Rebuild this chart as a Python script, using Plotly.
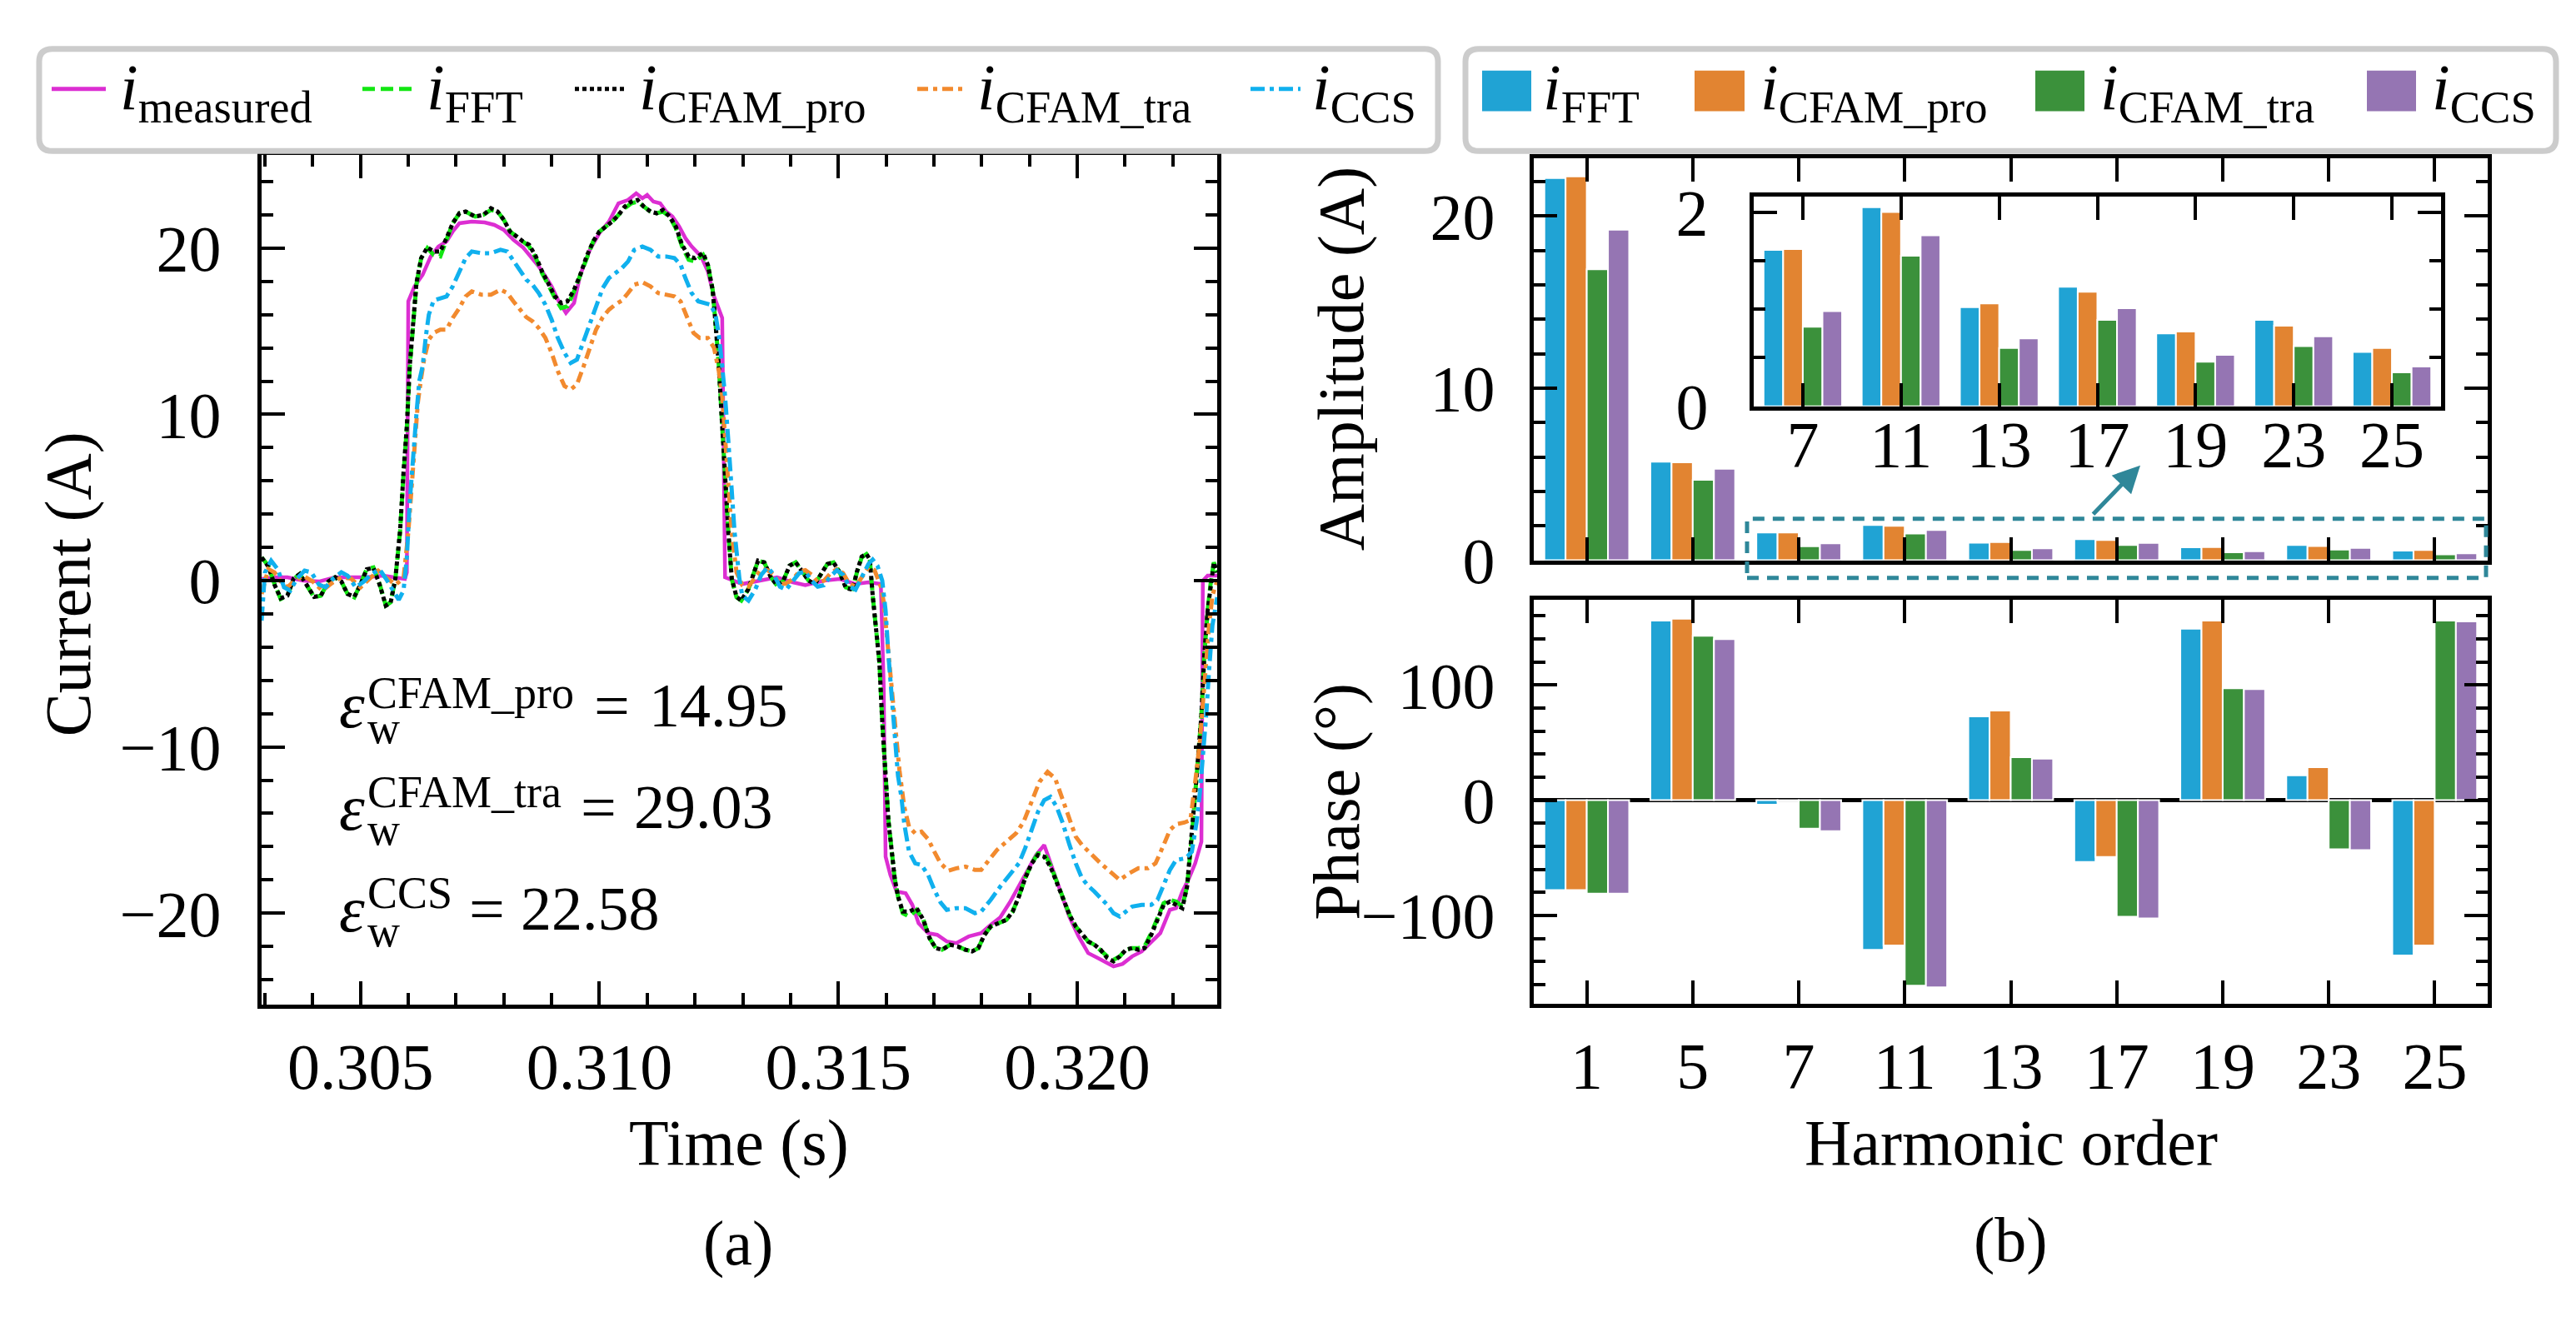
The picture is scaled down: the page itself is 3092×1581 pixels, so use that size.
import plotly.graph_objects as go

W, H = 3092, 1581
FONT = "Liberation Serif"


def px(x):
    return x / W


def py(y):
    return 1 - y / H


# ---------------- (a) time-domain currents ----------------
t_meas = [0.30293, 0.30320, 0.30347, 0.30380, 0.30413, 0.30447, 0.30480, 0.30513, 0.30547, 0.30573,
          0.30593, 0.30597, 0.30600, 0.30613, 0.30630, 0.30647, 0.30663, 0.30680, 0.30693, 0.30707,
          0.30733, 0.30760, 0.30780, 0.30800, 0.30820, 0.30840, 0.30860, 0.30873, 0.30887, 0.30900,
          0.30913, 0.30930, 0.30947, 0.30960, 0.30980, 0.31000, 0.31020, 0.31040, 0.31060, 0.31077,
          0.31090, 0.31100, 0.31113, 0.31127, 0.31140, 0.31153, 0.31167, 0.31180, 0.31193, 0.31213,
          0.31227, 0.31240, 0.31257, 0.31260, 0.31263, 0.31299, 0.31339, 0.31372, 0.31405, 0.31431,
          0.31470, 0.31503, 0.31536, 0.31563, 0.31589, 0.31595, 0.31599, 0.31609, 0.31622, 0.31641,
          0.31655, 0.31668, 0.31688, 0.31707, 0.31727, 0.31747, 0.31773, 0.31799, 0.31819, 0.31839,
          0.31859, 0.31878, 0.31898, 0.31914, 0.31931, 0.31947, 0.31964, 0.31984, 0.32003, 0.32023,
          0.32043, 0.32063, 0.32076, 0.32095, 0.32115, 0.32135, 0.32155, 0.32174, 0.32194, 0.32207,
          0.32220, 0.32234, 0.32247, 0.32260, 0.32263, 0.32273, 0.32293]
i_meas = [0.1, 0.2, 0.2, 0.0, -0.05, 0.2, 0.2, 0.2, 0.3, 0.2,
          0.1, 0.5, 16.8, 17.7, 18.4, 19.5, 20.1, 20.4, 21.0, 21.5,
          21.6, 21.55, 21.4, 21.1, 20.5, 20.05, 19.4, 18.9, 18.3, 17.7,
          16.9, 16.1, 16.7, 18.4, 19.9, 20.9, 21.6, 22.7, 22.9, 23.3,
          23.0, 23.2, 22.8, 22.7, 22.2, 21.9, 21.3, 20.6, 20.1, 19.5,
          18.6, 17.1, 15.8, 9.3, 0.2, -0.2, 0.0, 0.2, -0.1, -0.27,
          0.0, 0.1, -0.2, -0.1, -0.2, -6.3, -16.6, -17.7, -18.7, -18.8,
          -19.5, -20.6, -21.2, -21.3, -21.7, -21.8, -21.4, -21.2, -20.7, -20.25,
          -19.35, -18.4, -17.4, -16.5, -15.9, -17.2, -18.7, -20.25, -21.4, -22.4,
          -22.7, -23.0, -23.2, -23.05, -22.6, -22.3, -21.7, -21.2, -19.8, -19.7,
          -18.7, -17.9, -17.0, -15.7, 0.0, 0.3, 0.3]

# time base shared by the FFT and CFAM_pro reconstructions
t_rec = [0.30293, 0.30307, 0.30320, 0.30333, 0.30347, 0.30360, 0.30373, 0.30390, 0.30403, 0.30417,
         0.30433, 0.30447, 0.30460, 0.30473, 0.30487, 0.30500, 0.30513, 0.30527, 0.30540, 0.30553,
         0.30563, 0.30573, 0.30583, 0.30590, 0.30597, 0.30603, 0.30610, 0.30617, 0.30627, 0.30640,
         0.30653, 0.30667, 0.30680, 0.30693, 0.30707, 0.30720, 0.30740, 0.30757, 0.30773, 0.30787,
         0.30800, 0.30813, 0.30827, 0.30840, 0.30853, 0.30867, 0.30880, 0.30893, 0.30907, 0.30920,
         0.30933, 0.30947, 0.30960, 0.30973, 0.30987, 0.31000, 0.31013, 0.31027, 0.31040, 0.31053,
         0.31067, 0.31080, 0.31093, 0.31107, 0.31120, 0.31133, 0.31147, 0.31160, 0.31173, 0.31187,
         0.31200, 0.31217, 0.31227, 0.31237, 0.31243, 0.31250, 0.31257, 0.31263, 0.31270, 0.31277,
         0.31287, 0.31297, 0.31312, 0.31332, 0.31345, 0.31359, 0.31372, 0.31385, 0.31398, 0.31411,
         0.31424, 0.31438, 0.31451, 0.31464, 0.31477, 0.31490, 0.31503, 0.31516, 0.31530, 0.31539,
         0.31549, 0.31559, 0.31566, 0.31572, 0.31579, 0.31586, 0.31592, 0.31599, 0.31605, 0.31612,
         0.31618, 0.31625, 0.31635, 0.31648, 0.31664, 0.31678, 0.31691, 0.31704, 0.31717, 0.31734,
         0.31750, 0.31766, 0.31780, 0.31793, 0.31806, 0.31819, 0.31836, 0.31852, 0.31865, 0.31878,
         0.31891, 0.31905, 0.31918, 0.31931, 0.31944, 0.31957, 0.31970, 0.31984, 0.31997, 0.32010,
         0.32023, 0.32036, 0.32049, 0.32063, 0.32076, 0.32089, 0.32102, 0.32115, 0.32128, 0.32141,
         0.32155, 0.32168, 0.32181, 0.32194, 0.32207, 0.32220, 0.32230, 0.32240, 0.32250, 0.32260,
         0.32266, 0.32273, 0.32280, 0.32286, 0.32293]
i_pro = [1.4, 0.86, -0.24, -1.06, -0.9, 0.13, 0.4, -0.4, -0.97, -0.9,
         -0.05, 0.2, -0.05, -0.8, -0.97, -0.24, 0.68, 0.77, -0.24, -1.5,
         -1.33, 0.13, 3.05, 6.5, 9.3, 12.9, 15.5, 17.9, 19.4, 20.05,
         19.8, 19.8, 20.6, 21.5, 22.1, 22.2, 21.9, 22.0, 22.4, 22.2,
         21.7, 21.0, 20.7, 20.4, 20.2, 19.5, 18.6, 17.9, 17.1, 16.7,
         16.8, 17.5, 18.4, 19.5, 20.4, 21.0, 21.3, 21.6, 22.0, 22.5,
         22.8, 22.9, 22.5, 22.2, 22.1, 22.3, 21.9, 21.3, 20.2, 19.5,
         19.4, 19.7, 19.0, 17.5, 15.5, 12.9, 9.3, 6.0, 2.9, 0.13,
         -0.97, -1.2, -0.5, 1.2, 1.1, 0.2, -0.27, 0.0, 0.9, 1.1,
         0.6, 0.0, -0.2, 0.36, 1.0, 1.1, 0.5, -0.45, -0.54, 0.54,
         1.45, 1.6, 1.27, -0.9, -2.7, -4.9, -8.5, -11.75, -14.5, -16.3,
         -17.9, -19.0, -19.9, -19.9, -19.7, -20.4, -21.5, -22.1, -22.2, -21.9,
         -22.0, -22.2, -22.3, -22.1, -21.3, -20.8, -20.6, -20.4, -19.9, -19.0,
         -17.9, -17.0, -16.5, -16.6, -17.2, -18.1, -19.0, -20.1, -20.8, -21.3,
         -21.7, -21.9, -22.2, -22.7, -22.9, -22.6, -22.2, -22.1, -22.2, -22.1,
         -21.3, -20.4, -19.5, -19.3, -19.5, -19.7, -18.4, -15.4, -11.75, -8.1,
         -4.5, -1.8, 0.0, 1.1, 0.5]
i_fft = [1.4, 0.9, -0.2, -1.1, -0.9, 0.1, 0.4, -0.4, -1.0, -0.9,
         -0.05, 0.2, -0.05, -0.8, -1.0, -0.2, 0.7, 0.8, -0.2, -1.5,
         -1.3, 0.1, 3.0, 6.4, 9.2, 12.8, 15.4, 17.8, 19.4, 20.0,
         19.6, 19.5, 20.5, 21.5, 22.1, 22.2, 21.9, 22.0, 22.3, 22.2,
         21.7, 21.0, 20.7, 20.4, 20.1, 19.4, 18.5, 17.8, 17.0, 16.4,
         16.5, 17.4, 18.4, 19.5, 20.4, 21.0, 21.3, 21.6, 22.0, 22.4,
         22.7, 22.8, 22.5, 22.2, 22.1, 22.2, 21.9, 21.2, 20.1, 19.3,
         19.2, 19.6, 19.0, 17.5, 15.5, 12.9, 9.3, 6.0, 2.9, 0.1,
         -1.0, -1.2, -0.5, 1.2, 1.1, 0.2, -0.3, 0.0, 0.9, 1.1,
         0.6, 0.0, -0.2, 0.4, 1.0, 1.1, 0.5, -0.4, -0.5, 0.5,
         1.4, 1.6, 1.3, -0.9, -2.7, -4.9, -8.5, -11.7, -14.4, -16.3,
         -17.9, -19.0, -20.0, -20.2, -19.8, -20.4, -21.5, -22.1, -22.2, -21.9,
         -22.0, -22.2, -22.3, -22.1, -21.3, -20.8, -20.6, -20.4, -19.9, -19.0,
         -17.9, -17.0, -16.4, -16.4, -17.1, -18.1, -19.0, -20.1, -20.8, -21.3,
         -21.7, -21.9, -22.2, -22.6, -22.8, -22.6, -22.2, -22.1, -22.1, -22.0,
         -21.2, -20.3, -19.4, -19.2, -19.3, -19.6, -18.4, -15.4, -11.7, -8.1,
         -4.5, -1.8, 0.0, 1.1, 0.5]

t_tra = [0.30293, 0.30307, 0.30320, 0.30333, 0.30347, 0.30360, 0.30380, 0.30400, 0.30420, 0.30440,
         0.30460, 0.30480, 0.30500, 0.30520, 0.30537, 0.30553, 0.30573, 0.30590, 0.30600, 0.30607,
         0.30613, 0.30620, 0.30627, 0.30633, 0.30643, 0.30653, 0.30667, 0.30680, 0.30693, 0.30707,
         0.30720, 0.30733, 0.30753, 0.30773, 0.30793, 0.30807, 0.30820, 0.30833, 0.30847, 0.30860,
         0.30873, 0.30887, 0.30900, 0.30913, 0.30927, 0.30940, 0.30953, 0.30967, 0.30980, 0.30993,
         0.31007, 0.31020, 0.31033, 0.31047, 0.31060, 0.31073, 0.31090, 0.31107, 0.31123, 0.31140,
         0.31157, 0.31170, 0.31183, 0.31197, 0.31210, 0.31227, 0.31240, 0.31250, 0.31257, 0.31263,
         0.31270, 0.31277, 0.31287, 0.31299, 0.31312, 0.31326, 0.31339, 0.31352, 0.31365, 0.31378,
         0.31391, 0.31405, 0.31418, 0.31431, 0.31444, 0.31457, 0.31470, 0.31484, 0.31497, 0.31510,
         0.31523, 0.31536, 0.31549, 0.31563, 0.31576, 0.31589, 0.31595, 0.31602, 0.31609, 0.31615,
         0.31622, 0.31628, 0.31638, 0.31648, 0.31661, 0.31674, 0.31688, 0.31701, 0.31714, 0.31730,
         0.31747, 0.31766, 0.31786, 0.31799, 0.31812, 0.31832, 0.31852, 0.31872, 0.31888, 0.31905,
         0.31921, 0.31938, 0.31954, 0.31970, 0.31984, 0.31997, 0.32010, 0.32030, 0.32049, 0.32069,
         0.32089, 0.32109, 0.32128, 0.32148, 0.32164, 0.32181, 0.32194, 0.32207, 0.32224, 0.32237,
         0.32243, 0.32250, 0.32257, 0.32263, 0.32270, 0.32276, 0.32283, 0.32293]
i_tra = [-0.8, 0.7, 0.5, -0.05, -0.4, -0.05, 0.3, -0.05, -0.6, -0.15,
         0.2, 0.13, -0.4, 0.13, 0.6, 0.2, -0.24, 0.13, 2.9, 5.6,
         8.35, 10.7, 12.2, 13.3, 14.5, 14.9, 15.1, 15.1, 15.8, 16.4,
         17.1, 17.4, 17.2, 17.2, 17.5, 17.3, 16.8, 16.3, 15.85, 15.6,
         15.2, 14.6, 13.7, 12.6, 11.7, 11.5, 11.8, 12.9, 14.0, 15.1,
         15.85, 16.3, 16.6, 16.85, 17.3, 17.8, 17.95, 17.7, 17.3, 17.2,
         17.1, 16.8, 15.85, 14.9, 14.6, 14.6, 14.0, 12.6, 11.1, 8.35,
         5.6, 2.9, 0.5, -0.27, -0.36, 0.18, 0.7, 0.63, 0.36, -0.18,
         -0.18, 0.1, 0.54, 0.63, 0.36, -0.1, 0.0, 0.45, 0.7, 0.45,
         -0.18, -0.36, 0.18, 0.8, 0.63, -0.36, -1.27, -3.6, -5.4, -7.4,
         -9.6, -11.4, -13.6, -14.8, -15.2, -15.1, -15.55, -16.3, -17.0, -17.45,
         -17.3, -17.2, -17.4, -17.4, -16.9, -16.2, -15.7, -15.2, -14.5, -13.2,
         -12.1, -11.5, -11.9, -13.2, -14.3, -15.4, -15.9, -16.5, -17.0, -17.5,
         -18.0, -17.6, -17.3, -17.3, -17.0, -15.9, -15.0, -14.65, -14.55, -14.4,
         -13.2, -11.4, -9.6, -7.4, -5.1, -2.7, -0.9, 0.0]

t_ccs = [0.30293, 0.30300, 0.30313, 0.30327, 0.30340, 0.30353, 0.30367, 0.30383, 0.30397, 0.30413,
         0.30427, 0.30443, 0.30460, 0.30473, 0.30490, 0.30507, 0.30523, 0.30540, 0.30553, 0.30567,
         0.30580, 0.30590, 0.30597, 0.30603, 0.30610, 0.30617, 0.30623, 0.30630, 0.30637, 0.30643,
         0.30653, 0.30667, 0.30680, 0.30693, 0.30707, 0.30720, 0.30733, 0.30753, 0.30773, 0.30793,
         0.30807, 0.30820, 0.30833, 0.30847, 0.30860, 0.30873, 0.30887, 0.30900, 0.30913, 0.30927,
         0.30940, 0.30953, 0.30967, 0.30980, 0.30993, 0.31007, 0.31020, 0.31033, 0.31047, 0.31060,
         0.31073, 0.31090, 0.31107, 0.31123, 0.31140, 0.31157, 0.31170, 0.31180, 0.31193, 0.31207,
         0.31220, 0.31233, 0.31243, 0.31250, 0.31257, 0.31263, 0.31270, 0.31277, 0.31283, 0.31293,
         0.31299, 0.31312, 0.31326, 0.31339, 0.31352, 0.31365, 0.31378, 0.31391, 0.31405, 0.31418,
         0.31431, 0.31444, 0.31457, 0.31470, 0.31484, 0.31497, 0.31510, 0.31523, 0.31536, 0.31549,
         0.31563, 0.31572, 0.31582, 0.31592, 0.31599, 0.31605, 0.31612, 0.31618, 0.31625, 0.31632,
         0.31638, 0.31648, 0.31661, 0.31674, 0.31688, 0.31701, 0.31714, 0.31727, 0.31747, 0.31766,
         0.31786, 0.31799, 0.31819, 0.31839, 0.31859, 0.31878, 0.31891, 0.31905, 0.31918, 0.31931,
         0.31944, 0.31957, 0.31970, 0.31984, 0.31997, 0.32010, 0.32023, 0.32036, 0.32049, 0.32063,
         0.32076, 0.32089, 0.32102, 0.32115, 0.32135, 0.32155, 0.32168, 0.32181, 0.32194, 0.32207,
         0.32227, 0.32240, 0.32250, 0.32257, 0.32263, 0.32270, 0.32276, 0.32283, 0.32293]
i_ccs = [-2.4, 0.5, 1.2, 0.68, -0.4, -0.6, 0.13, 0.6, 0.5, -0.24,
         -0.4, 0.13, 0.5, 0.3, -0.4, -0.05, 0.4, 0.68, 0.13, -0.6,
         -1.15, -0.6, 1.4, 4.7, 7.8, 10.0, 12.0, 12.9, 14.75, 16.0,
         16.85, 17.0, 17.1, 17.7, 18.6, 19.4, 19.8, 19.7, 19.7, 19.9,
         19.8, 19.2, 18.7, 18.1, 17.8, 17.3, 16.6, 15.7, 14.6, 13.7,
         13.1, 13.3, 14.4, 15.5, 16.6, 17.6, 18.2, 18.5, 18.8, 19.2,
         19.9, 20.1, 19.9, 19.5, 19.5, 19.4, 19.0, 18.2, 17.3, 16.8,
         16.7, 16.6, 16.0, 14.75, 12.9, 11.1, 8.35, 5.6, 2.9, 0.13,
         -0.9, -1.2, -0.54, 0.36, 0.8, 0.36, -0.36, -0.54, 0.0, 0.45,
         0.54, 0.0, -0.36, -0.27, 0.27, 0.63, 0.36, -0.36, -0.54, 0.18,
         1.0, 1.27, 0.9, 0.0, -1.8, -4.5, -6.9, -9.6, -11.75, -13.0,
         -14.6, -16.3, -17.0, -17.1, -17.7, -18.6, -19.35, -19.8, -19.7, -19.7,
         -20.0, -19.9, -19.2, -18.4, -17.7, -17.0, -16.1, -15.0, -13.9, -13.2,
         -13.0, -13.6, -14.6, -15.9, -17.0, -17.9, -18.35, -18.7, -19.1, -19.5,
         -20.0, -20.2, -19.9, -19.6, -19.5, -19.5, -19.2, -18.3, -17.4, -16.8,
         -16.7, -16.3, -14.5, -12.7, -10.85, -8.1, -5.4, -2.7, -1.0]

error_names = ["CFAM_pro", "CFAM_tra", "CCS"]
error_values = ["14.95", "29.03", "22.58"]

# ---------------- (b) harmonic spectrum ----------------
harmonics = ["1", "5", "7", "11", "13", "17", "19", "23", "25"]
amp_fft = [22.2, 5.73, 1.61, 2.05, 1.02, 1.23, 0.75, 0.89, 0.56]
amp_pro = [22.3, 5.69, 1.62, 2.00, 1.06, 1.18, 0.77, 0.83, 0.60]
amp_tra = [16.9, 4.67, 0.82, 1.55, 0.60, 0.89, 0.46, 0.62, 0.35]
amp_ccs = [19.2, 5.31, 0.98, 1.76, 0.70, 1.01, 0.53, 0.72, 0.41]
ph_fft = [-78, 155.8, -4, -129.8, 72.7, -53.7, 148.8, 21.5, -134.7]
ph_pro = [-78, 157.4, -1, -126, 77.7, -49.2, 155.8, 28.5, -126]
ph_tra = [-81, 142.6, -24.8, -161, 37.2, -101.2, 97.1, -42.6, 155.8]
ph_ccs = [-81, 139.7, -26.9, -162.4, 36, -102.5, 96.3, -43.4, 155]

# ---------------- styles ----------------
C_MEAS, C_FFT_L, C_PRO_L, C_TRA_L, C_CCS_L = "#DC2ED2", "#12E612", "#000000", "#F28A2E", "#10B0EE"
C_FFT, C_PRO, C_TRA, C_CCS = "#20A3D4", "#E28431", "#3B913B", "#9575B3"
TEAL = "#2F8799"
D_FFT, D_PRO, D_TRA, D_CCS = "15px,7px", "5px,4px", "13px,6px,5px,6px", "17px,6px,5px,6px"

fig = go.Figure()

lines = [
    (t_meas, i_meas, C_MEAS, "solid", 4.5, "i_measured"),
    (t_rec, i_fft, C_FFT_L, D_FFT, 5, "i_FFT"),
    (t_rec, i_pro, C_PRO_L, D_PRO, 5, "i_CFAM_pro"),
    (t_tra, i_tra, C_TRA_L, D_TRA, 5, "i_CFAM_tra"),
    (t_ccs, i_ccs, C_CCS_L, D_CCS, 5, "i_CCS"),
]
for tx, iy, col, dash, lw, nm in lines:
    fig.add_trace(go.Scatter(x=tx, y=iy, mode="lines", name=nm, showlegend=False,
                             line=dict(color=col, width=lw, dash=dash), xaxis="x", yaxis="y"))

bar_sets = [(amp_fft, ph_fft, C_FFT, "FFT"), (amp_pro, ph_pro, C_PRO, "CFAM_pro"),
            (amp_tra, ph_tra, C_TRA, "CFAM_tra"), (amp_ccs, ph_ccs, C_CCS, "CCS")]
for amp, ph, col, nm in bar_sets:
    mk = dict(color=col, line=dict(color="white", width=2))
    fig.add_trace(go.Bar(x=harmonics, y=amp, marker=mk, name=nm, showlegend=False,
                         xaxis="x2", yaxis="y2"))
    fig.add_trace(go.Bar(x=harmonics, y=ph, marker=mk, name=nm, showlegend=False,
                         xaxis="x3", yaxis="y3"))
    fig.add_trace(go.Bar(x=harmonics[2:], y=amp[2:], marker=mk, name=nm, showlegend=False,
                         xaxis="x4", yaxis="y4"))

tickfont = dict(family=FONT, size=78, color="black")
common = dict(showline=True, linecolor="black", linewidth=5, mirror="ticks", ticks="inside",
              ticklen=28, tickwidth=4, tickcolor="black", showgrid=False,
              tickfont=tickfont)


def minor(d):
    return dict(ticks="inside", ticklen=14, tickwidth=4, tickcolor="black", dtick=d, showgrid=False)


fig.update_layout(
    width=W, height=H, margin=dict(l=0, r=0, t=0, b=0),
    paper_bgcolor="white", plot_bgcolor="white",
    barmode="group", bargap=0.2, bargroupgap=0,
    font=dict(family=FONT, color="black", size=76),
    xaxis=dict(domain=[px(306), px(1453)], range=[0.30293, 0.32293], tick0=0.3, dtick=0.005,
               tickformat=".3f", minor=minor(0.001), anchor="y", ticklabelstandoff=2,
               zeroline=False, **common),
    yaxis=dict(domain=[py(1227), py(162)], range=[-25.5, 25.6], tick0=0, dtick=10,
               minor=minor(2), anchor="x", ticklabelstandoff=28, zeroline=False, **common),
    xaxis2=dict(domain=[px(1833), px(2978)], range=[-0.5, 8.5], type="category",
                showticklabels=False, anchor="y2", zeroline=False, **common),
    yaxis2=dict(domain=[py(670), py(166)], range=[0, 23.35], tick0=0, dtick=10,
                minor=minor(2), anchor="x2", ticklabelstandoff=26, zeroline=False, **common),
    xaxis3=dict(domain=[px(1833), px(2978)], range=[-0.5, 8.5], type="category",
                anchor="y3", ticklabelstandoff=2, zeroline=False, **common),
    yaxis3=dict(domain=[py(1226), py(720)], range=[-176.7, 173.5], tick0=0, dtick=100,
                minor=minor(20), anchor="x3", ticklabelstandoff=26,
                zeroline=True, zerolinecolor="black", zerolinewidth=5, **common),
    xaxis4=dict(domain=[px(2097), px(2922)], range=[-0.5, 6.5], type="category",
                anchor="y4", ticklabelstandoff=-26, zeroline=False, **common),
    yaxis4=dict(domain=[py(477), py(214)], range=[0, 2.16], tick0=0, dtick=2,
                minor=minor(0.5), anchor="x4", ticklabelstandoff=34, zeroline=False, **common),
)


def txt(x, y, s, size=76, xanchor="center", yanchor="middle", angle=0, color="black"):
    return dict(x=px(x), y=py(y), xref="paper", yref="paper", text=s, showarrow=False,
                font=dict(family=FONT, size=size, color=color), xanchor=xanchor,
                yanchor=yanchor, textangle=angle)


ann = [
    txt(73, 700, "Current (A)", size=78, angle=-90),
    txt(879, 1400, "Time (s)", size=78),
    txt(878, 1526, "(a)", size=76),
    txt(1601, 418, "Amplitude (A)", size=78, angle=-90),
    txt(1597, 973, "Phase (°)", size=78, angle=-90),
    txt(2406, 1400, "Harmonic order", size=78),
    txt(2405, 1522, "(b)", size=76),
]

# epsilon error annotations
eps_rows = [(852, 836, 880, 703, 769), (980, 961, 1008, 687, 751), (1107, 1087, 1135, 553, 615)]
for (yc, ysup, ysub, xeq, xnum), nm, val in zip(eps_rows, error_names, error_values):
    ann.append(txt(397, yc, "<i>ε</i>", size=78, xanchor="left"))
    ann.append(txt(431, ysup, nm, size=54, xanchor="left"))
    ann.append(txt(431, ysub, "w", size=54, xanchor="left"))
    ann.append(txt(xeq, yc, "=", size=76, xanchor="left"))
    ann.append(txt(xnum, yc, val, size=74, xanchor="left"))

# legend (a)
leg_a = [(54, 119, 134, C_MEAS, "solid", "measured"),
         (427, 490, 502, C_FFT_L, D_FFT, "FFT"),
         (682, 743, 757, C_PRO_L, D_PRO, "CFAM_pro"),
         (1093, 1152, 1163, C_TRA_L, D_TRA, "CFAM_tra"),
         (1493, 1553, 1565, C_CCS_L, D_CCS, "CCS")]
shapes = []
for x0, x1, xt, col, dash, sub in leg_a:
    shapes.append(dict(type="line", xref="paper", yref="paper", x0=px(x0), x1=px(x1),
                       y0=py(79), y1=py(79), line=dict(color=col, width=5, dash=dash)))
    ann.append(txt(xt, 82, "<i>i</i><sub>%s</sub>" % sub, size=78, xanchor="left"))

# legend (b)
leg_b = [(1771, 1830, 1842, C_FFT, "FFT"), (2026, 2086, 2103, C_PRO, "CFAM_pro"),
         (2435, 2494, 2511, C_TRA, "CFAM_tra"), (2833, 2892, 2909, C_CCS, "CCS")]
for x0, x1, xt, col, sub in leg_b:
    shapes.append(dict(type="rect", xref="paper", yref="paper", x0=px(x0), x1=px(x1),
                       y0=py(107), y1=py(56), fillcolor=col, line=dict(width=0)))
    ann.append(txt(xt, 82, "<i>i</i><sub>%s</sub>" % sub, size=78, xanchor="left"))


def rrect(x0, y0, x1, y1, r):
    p = lambda x, y: "%.6f,%.6f" % (px(x), py(y))
    return ("M" + p(x0 + r, y0) + " L" + p(x1 - r, y0) + " Q" + p(x1, y0) + " " + p(x1, y0 + r) +
            " L" + p(x1, y1 - r) + " Q" + p(x1, y1) + " " + p(x1 - r, y1) +
            " L" + p(x0 + r, y1) + " Q" + p(x0, y1) + " " + p(x0, y1 - r) +
            " L" + p(x0, y0 + r) + " Q" + p(x0, y0) + " " + p(x0 + r, y0) + " Z")


for bx0, bx1 in [(39, 1718), (1751, 3060)]:
    shapes.append(dict(type="path", xref="paper", yref="paper", path=rrect(bx0, 29, bx1, 157, 16),
                       line=dict(color="#CCCCCC", width=7)))

# zoom box and arrow
shapes.append(dict(type="rect", xref="paper", yref="paper", x0=px(2089), x1=px(2976),
                   y0=py(692), y1=py(618), line=dict(color=TEAL, width=5, dash="14px,10px")))
ann.append(dict(x=px(2561), y=py(551), xref="paper", yref="paper", ax=-58, ay=60,
                axref="pixel", ayref="pixel", text="", font=dict(size=1), showarrow=True,
                arrowhead=2, arrowsize=1.3, arrowwidth=5, arrowcolor=TEAL,
                standoff=0, startstandoff=0))

fig.update_layout(annotations=ann, shapes=shapes)
fig.write_html("out.html")
